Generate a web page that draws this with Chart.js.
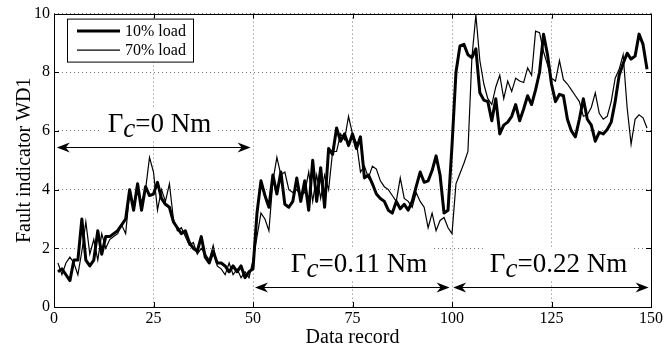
<!DOCTYPE html>
<html>
<head>
  <title>Fault indicator WD1</title>
  <style>
    body { margin: 0; background: #fff; }
    #canvas { display: block; background: #fff; }
  </style>
</head>
<body>
  <canvas id="canvas" width="665" height="350"></canvas>
  <script src="https://cdn.jsdelivr.net/npm/chart.js"></script>
  <script>
    // values, record 1 .. 149
    const load10 = [
      1.2, 1.3, 1.1, 0.9, 1.6, 1.6, 3.0, 1.6, 1.4, 1.6,
      2.6, 1.8, 2.4, 2.4, 2.5, 2.6, 2.8, 3.0, 4.0, 3.3,
      4.2, 3.3, 4.1, 3.8, 3.85, 4.25, 3.7, 3.5, 3.4, 2.9,
      2.7, 2.5, 2.6, 2.2, 2.0, 1.9, 2.4, 1.7, 1.5, 1.9,
      1.5, 1.5, 1.4, 1.2, 1.4, 1.2, 1.4, 1.0, 1.2, 1.3,
      3.2, 4.3, 3.8, 3.4, 4.5, 3.85, 4.6, 3.5, 3.4, 3.6,
      4.4, 3.6, 4.3, 3.3, 5.0, 3.6, 4.75, 3.4, 5.4, 5.2,
      6.1, 5.65, 5.9, 5.5, 5.9, 5.4, 5.8, 4.4, 4.5, 4.2,
      3.85, 3.7, 3.6, 3.3, 3.2, 3.6, 3.35, 3.5, 3.3, 3.6,
      4.1, 4.6, 4.25, 4.3, 4.65, 5.15, 4.5, 3.2, 3.3, 5.5,
      8.0, 8.9, 8.95, 8.6, 8.5, 8.8, 7.3, 7.05, 7.0, 6.35,
      7.1, 5.9, 6.2, 6.3, 6.5, 6.9, 6.35, 6.75, 7.2, 6.9,
      7.4, 8.0, 9.3, 8.6, 7.6, 7.0, 7.25, 7.2, 6.4, 6.0,
      5.8, 6.4, 7.1, 6.4, 6.2, 5.65, 5.95, 5.9, 6.05, 6.3,
      7.0, 7.9, 8.3, 8.65, 8.45, 8.55, 9.3, 8.95, 8.1
    ];
    const load70 = [
      1.5, 1.1, 1.5, 1.7, 1.5, 1.1, 1.9, 2.9, 1.8, 2.3,
      1.6, 2.5, 2.0, 2.3, 2.4, 2.5, 2.8, 2.5, 3.9, 3.5,
      3.9, 3.6, 4.0, 5.1, 4.6, 3.3, 4.0, 3.6, 4.2, 3.0,
      2.6, 2.7, 2.4, 2.1, 2.2, 1.8, 2.0, 1.8, 1.6, 2.1,
      1.4, 1.3, 1.1, 1.5, 1.1, 1.3, 1.0, 1.2, 1.0, 1.6,
      2.4, 3.2, 3.0, 2.6, 4.3, 5.1, 4.5, 4.6, 4.0, 3.9,
      4.0, 3.8, 3.9, 4.6, 3.6, 4.5, 3.7, 4.5, 4.0, 5.3,
      5.3, 5.9, 5.7, 6.5, 5.9, 5.6, 4.6, 4.8, 4.4, 4.8,
      4.7, 4.3, 4.1, 4.0, 3.8, 3.6, 4.4, 3.7, 3.6, 3.4,
      3.9, 3.6, 3.4, 2.7, 3.2, 2.6, 2.95, 3.05, 2.7, 2.5,
      4.2, 4.55, 4.9, 5.3, 8.5, 9.95, 8.4, 7.6, 7.1, 6.9,
      7.5, 7.9, 7.1, 7.7, 7.35, 7.8, 7.7, 7.65, 8.15, 7.9,
      9.4, 9.35, 8.7, 8.25, 7.8, 7.7, 8.4, 7.75, 7.6, 7.4,
      7.2, 7.0, 6.5, 6.55, 6.8, 7.3, 6.6, 6.4, 6.5, 7.0,
      7.8, 8.1, 8.6, 6.8, 5.55, 6.4, 6.55, 6.45, 6.1
    ];
    const seriesNames = ['10% load', '70% load'];
    const xTicks = [0, 25, 50, 75, 100, 125, 150];
    const yTicks = [0, 2, 4, 6, 8, 10];

    // torque regions: arrow span (x), arrow level (y), label start (x)
    const regions = [
      { from: 0.7, to: 49.4, y: 5.45, textX: 13.5, textY: 5.95, value: '=0 Nm' },
      { from: 50.5, to: 99.4, y: 0.68, textX: 59.5, textY: 1.19, value: '=0.11 Nm' },
      { from: 100.3, to: 149.4, y: 0.68, textX: 109.5, textY: 1.19, value: '=0.22 Nm' }
    ];

    const FONT = "'Liberation Serif', 'Times New Roman', serif";
    const toPoints = arr => arr.map((v, i) => ({ x: i + 1, y: v }));

    function arrowHead(ctx, x, y, dir) {
      const L = 13, W = 5, back = 4;
      ctx.beginPath();
      ctx.moveTo(x, y);
      ctx.lineTo(x - dir * L, y - W);
      ctx.lineTo(x - dir * (L - back), y);
      ctx.lineTo(x - dir * L, y + W);
      ctx.closePath();
      ctx.fill();
    }

    const decor = {
      id: 'decor',
      afterDatasetsDraw(chart) {
        const ctx = chart.ctx;
        const a = chart.chartArea;
        const xs = chart.scales.x, ys = chart.scales.y;
        ctx.save();
        ctx.strokeStyle = '#000';
        ctx.fillStyle = '#000';

        // inward tick marks on all four sides
        ctx.lineWidth = 1;
        ctx.beginPath();
        xTicks.forEach(t => {
          const px = Math.round(xs.getPixelForValue(t)) + 0.5;
          ctx.moveTo(px, a.bottom); ctx.lineTo(px, a.bottom - 5);
          ctx.moveTo(px, a.top); ctx.lineTo(px, a.top + 5);
        });
        yTicks.forEach(t => {
          const py = Math.round(ys.getPixelForValue(t)) + 0.5;
          ctx.moveTo(a.left, py); ctx.lineTo(a.left + 5, py);
          ctx.moveTo(a.right, py); ctx.lineTo(a.right - 5, py);
        });
        ctx.stroke();

        // arrows and labels
        regions.forEach(r => {
          const x1 = xs.getPixelForValue(r.from), x2 = xs.getPixelForValue(r.to);
          const py = Math.round(ys.getPixelForValue(r.y)) + 0.5;
          ctx.beginPath();
          ctx.moveTo(x1 + 6, py); ctx.lineTo(x2 - 6, py);
          ctx.stroke();
          arrowHead(ctx, x1, py, -1);
          arrowHead(ctx, x2, py, 1);

          const tx = xs.getPixelForValue(r.textX), ty = ys.getPixelForValue(r.textY);
          ctx.font = '27px ' + FONT;
          const wG = ctx.measureText('\u0393').width;
          ctx.font = 'italic 27px ' + FONT;
          const wc = ctx.measureText('c').width;
          ctx.font = '27px ' + FONT;
          const wv = ctx.measureText(r.value).width;
          ctx.fillStyle = '#fff';
          ctx.fillRect(tx - 6, ty - 24, wG + wc + wv + 12, 32);
          ctx.fillStyle = '#000';
          ctx.textBaseline = 'alphabetic';
          ctx.textAlign = 'left';
          ctx.fillText('\u0393', tx, ty);
          ctx.font = 'italic 27px ' + FONT;
          ctx.fillText('c', tx + wG, ty + 5);
          ctx.font = '27px ' + FONT;
          ctx.fillText(r.value, tx + wG + wc, ty);
        });

        // legend box
        const lx = a.left + 13, ly = a.top + 5;
        ctx.fillStyle = '#fff';
        ctx.fillRect(lx, ly, 126, 43);
        ctx.lineWidth = 1;
        ctx.strokeRect(lx + 0.5, ly + 0.5, 126, 43);
        ctx.fillStyle = '#000';
        ctx.font = '16px ' + FONT;
        ctx.textBaseline = 'middle';
        [3, 1.2].forEach((w, i) => {
          const rowY = ly + 12.5 + i * 19;
          ctx.lineWidth = w;
          ctx.beginPath();
          ctx.moveTo(lx + 10, rowY); ctx.lineTo(lx + 53, rowY);
          ctx.stroke();
          ctx.fillText(seriesNames[i], lx + 58, rowY + 1);
        });

        // frame
        ctx.lineWidth = 1;
        ctx.strokeRect(Math.round(a.left) + 0.5, Math.round(a.top) + 0.5,
                       Math.round(a.right - a.left), Math.round(a.bottom - a.top));
        ctx.restore();
      }
    };

    const canvas = document.getElementById('canvas');
    const chart = new Chart(canvas.getContext('2d'), {
      type: 'line',
      data: {
        datasets: [
          { label: seriesNames[0], data: toPoints(load10), borderColor: '#000', borderWidth: 3,
            pointRadius: 0, fill: false, tension: 0, borderJoinStyle: 'round' },
          { label: seriesNames[1], data: toPoints(load70), borderColor: '#000', borderWidth: 1.2,
            pointRadius: 0, fill: false, tension: 0 }
        ]
      },
      options: {
        responsive: false,
        animation: false,
        devicePixelRatio: 1,
        layout: { padding: { top: 13, right: 11, left: 0, bottom: 0 } },
        plugins: { legend: { display: false }, tooltip: { enabled: false } },
        scales: {
          x: {
            type: 'linear', min: 0, max: 150,
            afterBuildTicks: s => { s.ticks = xTicks.map(v => ({ value: v })); },
            ticks: { font: { family: FONT, size: 16 }, color: '#000', padding: 2, maxRotation: 0 },
            grid: { color: '#777', lineWidth: 1, drawTicks: false },
            border: { display: false, dash: [1, 3] },
            title: { display: true, text: 'Data record', color: '#000',
                     font: { family: FONT, size: 20 }, padding: 0 },
            afterFit: s => { s.height = 43; }
          },
          y: {
            min: 0, max: 10,
            afterBuildTicks: s => { s.ticks = yTicks.map(v => ({ value: v })); },
            ticks: { font: { family: FONT, size: 16 }, color: '#000', padding: 4 },
            grid: { color: '#777', lineWidth: 1, drawTicks: false },
            border: { display: false, dash: [1, 3] },
            title: { display: true, text: 'Fault indicator WD1', color: '#000',
                     font: { family: FONT, size: 20 }, padding: { top: 13, bottom: 0 } },
            afterFit: s => { s.width = 54; }
          }
        }
      },
      plugins: [decor]
    });
  </script>
</body>
</html>
